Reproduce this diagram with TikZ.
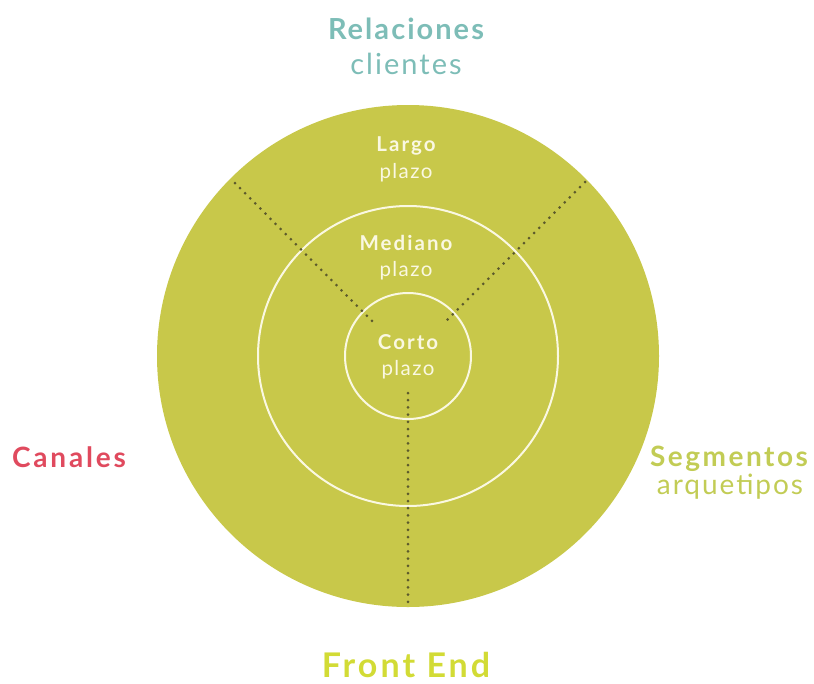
\documentclass[tikz,border=0pt]{standalone}
\usepackage{fontspec}
\setmainfont{Lato}
\definecolor{disc}{HTML}{C8C84A}
\definecolor{ring}{HTML}{FAF8E2}
\definecolor{dotc}{HTML}{5C5A2C}
\definecolor{teal}{HTML}{7DBDB7}
\definecolor{canal}{HTML}{E04A5E}
\definecolor{segm}{HTML}{C2CC55}
\definecolor{front}{HTML}{D2DB35}
\newcommand{\spaced}[1]{\addfontfeature{LetterSpace=#1}}
\tikzset{
  ringline/.style={draw=ring, line width=2pt, circle, inner sep=0pt},
  dotline/.style={draw=dotc, line width=3pt, line cap=round, dash pattern=on 0pt off 7.2pt},
  lbl/.style={anchor=base, inner sep=0pt},
  inb/.style={lbl, text=ring, font=\fontsize{20.5}{20.5}\selectfont\bfseries\spaced{10}},
  inr/.style={lbl, text=ring, font=\fontsize{20.5}{20.5}\selectfont\spaced{7}},
}
\begin{document}
\begin{tikzpicture}[x=1pt,y=-1pt]
\useasboundingbox (0,0) rectangle (814,683);
\node[circle, fill=disc, inner sep=0pt, minimum size=502pt] (outer) at (408,356) {};
\node[ringline, minimum size=300pt] (mid) at (408,356) {};
\node[ringline, minimum size=126pt] (inner) at (408,356) {};
% dotted dividers
\coordinate (l1) at (235,183);
\coordinate (l2) at (375,324);
\coordinate (r1) at (585,182);
\coordinate (r2) at (444,323);
\coordinate (v1) at (408,393);
\coordinate (v2) at (408,606);
\draw[dotline] (l1) -- (l2);
\draw[dotline] (r1) -- (r2);
\draw[dotline] (v1) -- (v2);
% inner labels
\node[inb] (largo) at (406,151) {Largo};
\node[inr] (largop) at (406,178) {plazo};
\node[inb] (mediano) at (406,250) {Mediano};
\node[inr] (medianop) at (406,276) {plazo};
\node[inb] (corto) at (408,349) {Corto};
\node[inr] (cortop) at (408,375) {plazo};
% outer labels
\node[lbl, text=teal, font=\fontsize{29}{29}\selectfont\bfseries\spaced{7}] (rel) at (406,39) {Relaciones};
\node[lbl, text=teal, font=\fontsize{29}{29}\selectfont\spaced{7}] (cli) at (406,74) {clientes};
\node[lbl, text=canal, font=\fontsize{28}{28}\selectfont\bfseries\spaced{10}] (can) at (69,467) {Canales};
\node[lbl, text=segm, font=\fontsize{28}{28}\selectfont\bfseries\spaced{9}] (seg) at (729,466) {Segmentos};
\node[lbl, text=segm, font=\fontsize{28}{28}\selectfont\spaced{7}] (arq) at (730,494) {arquetipos};
\node[lbl, text=front, font=\fontsize{34}{34}\selectfont\bfseries\spaced{9}] (fe) at (406,677) {Front End};
\end{tikzpicture}
\end{document}
